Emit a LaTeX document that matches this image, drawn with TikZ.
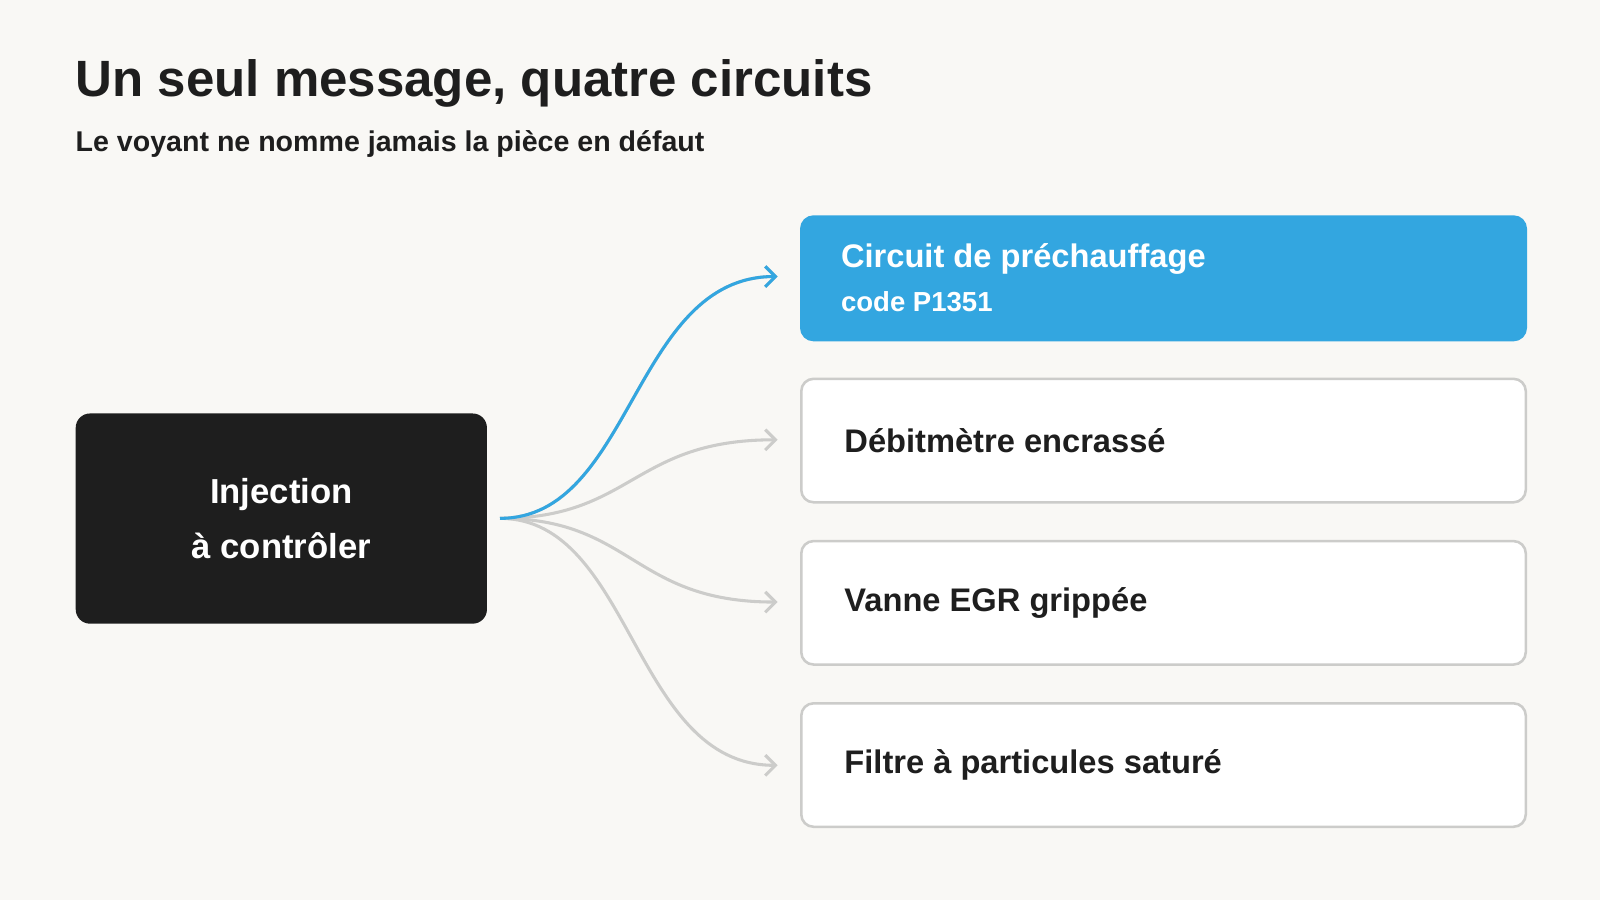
\documentclass[tikz,border=0pt]{standalone}
\usepackage{fontspec}
\setmainfont{Liberation Sans}
\usetikzlibrary{arrows.meta}
\definecolor{bg}{HTML}{F9F8F5}
\definecolor{ink}{HTML}{1E1E1E}
\definecolor{blu}{HTML}{33A6E0}
\definecolor{gry}{HTML}{CCCCCA}
\begin{document}
\begin{tikzpicture}[x=1pt,y=-1pt,
  card/.style={draw=gry,line width=2.5pt,fill=white,rounded corners=12pt,minimum width=710pt,minimum height=121pt,anchor=north west},
  lbl/.style={anchor=west,font=\bfseries\fontsize{32}{38}\selectfont,text=ink},
  con/.style={line width=3pt,draw=gry,-{Straight Barb[length=10pt,width=20pt,line width=3pt]}}]
\fill[bg] (0,0) rectangle (1568,882);
\useasboundingbox (0,0) rectangle (1568,882);
\node[anchor=base west,inner sep=0,font=\bfseries\fontsize{50}{60}\selectfont,text=ink] (t) at (74,95) {Un seul message, quatre circuits};
\node[anchor=base west,inner sep=0,font=\bfseries\fontsize{28}{34}\selectfont,text=ink] (s) at (74,148) {Le voyant ne nomme jamais la pièce en défaut};
\node[fill=ink,rounded corners=14pt,minimum width=403pt,minimum height=206pt,anchor=north west] (src) at (74,405) {};
\node[align=center,text=white,font=\bfseries\fontsize{34}{54}\selectfont] at (src.center) {Injection\\à contrôler};
\node[card,fill=blu,draw=blu] (c1) at (784,211) {};
\node[card] (c2) at (784,370) {};
\node[card] (c3) at (784,529) {};
\node[card] (c4) at (784,688) {};
\node[anchor=base west,inner sep=0,font=\bfseries\fontsize{32}{38}\selectfont,text=white] (c1a) at (824,262) {Circuit de préchauffage};
\node[anchor=base west,inner sep=0,font=\bfseries\fontsize{27}{32}\selectfont,text=white] (c1b) at (824,305) {code P1351};
\node[lbl] at ([xshift=40pt]c2.west) {Débitmètre encrassé};
\node[lbl] at ([xshift=40pt]c3.west) {Vanne EGR grippée};
\node[lbl] at ([xshift=40pt]c4.west) {Filtre à particules saturé};
\coordinate (o) at (490,508);
\coordinate (e1) at (762,271);
\coordinate (e2) at (762,431);
\coordinate (e3) at (762,590);
\coordinate (e4) at (762,750);
\draw[con] (o) .. controls (620,508) and (620,271) .. (e1);
\draw[con] (o) .. controls (620,508) and (620,431) .. (e2);
\draw[con] (o) .. controls (620,508) and (620,590) .. (e3);
\draw[con] (o) .. controls (620,508) and (620,750) .. (e4);
\draw[con,draw=blu,-{Straight Barb[length=10pt,width=20pt,line width=3pt]}] (o) .. controls (620,508) and (620,271) .. (e1);
\end{tikzpicture}
\end{document}
